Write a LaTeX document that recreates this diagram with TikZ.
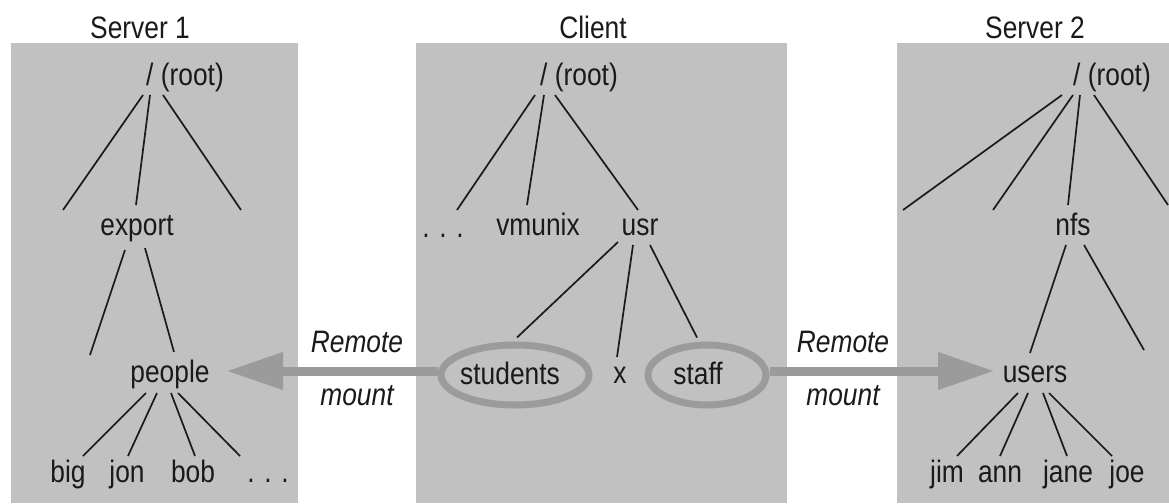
\documentclass[tikz,border=0pt]{standalone}
\usepackage{fontspec}
\setmainfont{Liberation Sans}[FakeStretch=0.85]
\usetikzlibrary{arrows.meta,shapes.geometric}
\definecolor{panel}{HTML}{C1C1C1}
\definecolor{mountgray}{HTML}{9B9B9B}
\definecolor{ink}{HTML}{1A1A1A}
% one branch of a directory tree: start node + offset, end node + offset
\newcommand\twigline[4]{\draw[twig] ([shift={#2}]#1) -- ([shift={#4}]#3);}
\begin{document}
\begin{tikzpicture}[x=1pt,y=-1pt,
  lbl/.style={inner sep=0pt,anchor=base,text=ink,font=\fontsize{31}{37}\selectfont},
  mountlbl/.style={lbl,font=\fontsize{31}{37}\selectfont\itshape},
  twig/.style={draw=ink,line width=1.7pt},
  mountring/.style={ellipse,draw=mountgray,line width=7pt,inner sep=0pt},
  mountarrow/.style={draw=mountgray,line width=9pt,
    -{Triangle[length=55pt,width=38pt,line width=0.1pt]}},
]
\useasboundingbox (0,0) rectangle (1169,503);
\fill[white] (0,0) rectangle (1169,503);

% machine panels
\fill[panel] (11,43) rectangle (298,503);
\fill[panel] (416,43) rectangle (787,503);
\fill[panel] (897,43) rectangle (1169,503);

% titles
\node[lbl] (t1) at (140,38) {Server 1};
\node[lbl] (t2) at (593,38) {Client};
\node[lbl] (t3) at (1035,38) {Server 2};

% ---- Server 1 tree
\node[lbl,anchor=base west] (r1) at (146,85) {/ (root)};
\coordinate (a1) at (63,210);
\coordinate (b1) at (241,210);
\node[lbl] (e1) at (137,235) {export};
\coordinate (c1) at (90,355);
\node[lbl] (p1) at (170,382) {people};
\node[lbl] (big) at (68,482) {big};
\node[lbl] (jon) at (127,482) {jon};
\node[lbl] (bob) at (193,482) {bob};
\node[lbl] (more1) at (268,482) {. . .};

\twigline{r1.base west}{(-3,10)}{a1}{(0,0)}
\twigline{r1.base west}{(4,10)}{e1.base}{(-1,-30)}
\twigline{r1.base west}{(17,10)}{b1}{(0,0)}
\twigline{e1.base}{(-12,15)}{c1}{(0,0)}
\twigline{e1.base}{(8,13)}{p1.base}{(4,-30)}
\twigline{p1.base}{(-24,11)}{big.base}{(15,-26)}
\twigline{p1.base}{(-13,11)}{jon.base}{(1,-26)}
\twigline{p1.base}{(1,11)}{bob.base}{(2,-26)}
\twigline{p1.base}{(8,11)}{more1.base}{(-28,-26)}

% ---- Client tree
\node[lbl,anchor=base west] (r2) at (540,85) {/ (root)};
\node[lbl] (more2) at (443,237) {. . .};
\node[lbl] (vm) at (538,235) {vmunix};
\node[lbl] (usr) at (640,235) {usr};
\node[mountring,minimum width=148pt,minimum height=60pt] (st) at (515,375) {};
\node[lbl] (stt) at (510,384) {students};
\node[lbl] (xx) at (620,383) {x};
\node[mountring,minimum width=118pt,minimum height=60pt] (sf) at (707,375) {};
\node[lbl] (sft) at (698,384) {staff};

\twigline{r2.base west}{(-5,10)}{more2.base}{(14,-27)}
\twigline{r2.base west}{(4,10)}{vm.base}{(-11,-30)}
\twigline{r2.base west}{(15,10)}{usr.base}{(-2,-25)}
\twigline{usr.base}{(-22,7)}{st.north}{(2,-4)}
\twigline{usr.base}{(-7,10)}{xx.base}{(-3,-26)}
\twigline{usr.base}{(10,10)}{sf.north}{(-10,-4)}

% ---- Server 2 tree
\node[lbl,anchor=base west] (r3) at (1073,85) {/ (root)};
\coordinate (a3) at (903,210);
\coordinate (b3) at (993,210);
\coordinate (c3) at (1168,205);
\node[lbl] (nfs) at (1073,235) {nfs};
\coordinate (d3) at (1144,350);
\node[lbl] (users) at (1035,382) {users};
\node[lbl] (jim) at (947,482) {jim};
\node[lbl] (ann) at (1000,482) {ann};
\node[lbl] (jane) at (1068,482) {jane};
\node[lbl] (joe) at (1127,482) {joe};

\twigline{r3.base west}{(-11,10)}{a3}{(0,0)}
\twigline{r3.base west}{(0,10)}{b3}{(0,0)}
\twigline{r3.base west}{(7,10)}{nfs.base}{(-5,-30)}
\twigline{r3.base west}{(21,10)}{c3}{(0,0)}
\twigline{nfs.base}{(-7,10)}{users.base}{(-5,-29)}
\twigline{nfs.base}{(11,10)}{d3}{(0,0)}
\twigline{users.base}{(-17,11)}{jim.base}{(10,-26)}
\twigline{users.base}{(-7,11)}{ann.base}{(0,-26)}
\twigline{users.base}{(8,11)}{jane.base}{(-1,-26)}
\twigline{users.base}{(14,11)}{joe.base}{(-15,-26)}

% ---- remote mounts
\coordinate (tipL) at (228,371);
\coordinate (tipR) at (993,371);
\draw[mountarrow] ([shift={(0,-4)}]st.west) -- (tipL);
\draw[mountarrow] ([shift={(0,-4)}]sf.east) -- (tipR);
\node[mountlbl] (rm1) at (357,352) {Remote};
\node[mountlbl] (mt1) at (357,405) {mount};
\node[mountlbl] (rm2) at (843,352) {Remote};
\node[mountlbl] (mt2) at (843,405) {mount};
\end{tikzpicture}
\end{document}
